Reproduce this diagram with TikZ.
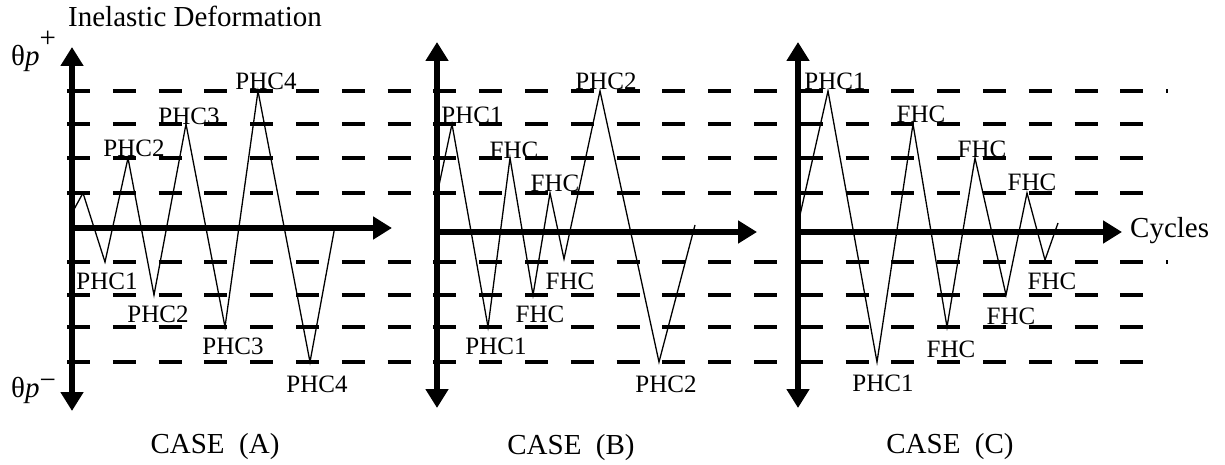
\documentclass[tikz,border=0pt]{standalone}
\usepackage{fontspec}
\setmainfont{Liberation Serif}
\usetikzlibrary{arrows.meta}
\begin{document}
\begin{tikzpicture}[x=1pt,y=-1pt,
  axisline/.style={line width=5.5pt},
  axtip/.style={-{Triangle[length=19pt,width=22pt]}},
  axtips/.style={{Triangle[length=19pt,width=22pt]}-{Triangle[length=19pt,width=22pt]}},
  levelline/.style={line width=3.3pt, dash pattern=on 23pt off 22.8pt},
  zig/.style={line width=1.3pt},
  lbl/.style={font=\fontsize{25}{28}\selectfont, inner sep=0pt},
  big/.style={font=\fontsize{29}{32}\selectfont, inner sep=0pt}]
\useasboundingbox (0,0) rectangle (1225,465);

% level lines
\foreach \yy/\xe in {91/1168,124/1143,158/1143,193/1143,262/1168,295/1143,327/1143,362/1143}{
  \draw[levelline] (67,\yy) -- (\xe,\yy);
}

% zigzags
\draw[zig] (72,213) -- (83,193) -- (105,262) -- (128,158) -- (154,295) -- (186,124) -- (225,327) -- (258,91) -- (310,362) -- (335,226);
\draw[zig] (438,190) -- (452,124) -- (488,327) -- (510,158) -- (533,295) -- (550,193) -- (564,259) -- (600,91) -- (659,362) -- (695,225);
\draw[zig] (800,215) -- (828,91) -- (877,362) -- (913,124) -- (947,327) -- (975,158) -- (1006,295) -- (1027,193) -- (1045,260) -- (1058,223);

% axes
\coordinate (oA) at (72,228);
\coordinate (tA) at (72,47);
\coordinate (bA) at (72,411);
\coordinate (eA) at (392,228);
\coordinate (oB) at (437,232);
\coordinate (tB) at (437,42);
\coordinate (bB) at (437,408);
\coordinate (eB) at (757,232);
\coordinate (oC) at (798,232);
\coordinate (tC) at (798,42);
\coordinate (bC) at (798,408);
\coordinate (eC) at (1122,232);
\draw[axisline,axtips] (bA) -- (tA);
\draw[axisline,axtip] (oA) -- (eA);
\draw[axisline,axtips] (bB) -- (tB);
\draw[axisline,axtip] (oB) -- (eB);
\draw[axisline,axtips] (bC) -- (tC);
\draw[axisline,axtip] (oC) -- (eC);

% titles
\node[big] (title) at (195,16) {Inelastic Deformation};
\node[big, anchor=west] (cyc) at (1130,231) {Cycles};
\node[big, anchor=base west] (tplus) at (11,66) {θ\textit{p}\raisebox{18pt}{+}};
\node[big, anchor=base west] (tminus) at (11,397) {θ\textit{p}\raisebox{8pt}{−}};
\node[big] (caseA) at (215,447) {CASE\ \ (A)};
\node[big] (caseB) at (571,448) {CASE\ \ (B)};
\node[big] (caseC) at (950,447) {CASE\ \ (C)};

% case A labels
\node[lbl] (a1) at (266,81) {PHC4};
\node[lbl] (a2) at (189,116) {PHC3};
\node[lbl] (a3) at (134,148) {PHC2};
\node[lbl] (a4) at (107,281) {PHC1};
\node[lbl] (a5) at (158,314) {PHC2};
\node[lbl] (a6) at (233,346) {PHC3};
\node[lbl] (a7) at (317,384) {PHC4};

% case B labels
\node[lbl] (b1) at (472,115) {PHC1};
\node[lbl] (b2) at (514,150) {FHC};
\node[lbl] (b3) at (555,183) {FHC};
\node[lbl] (b4) at (606,81) {PHC2};
\node[lbl] (b5) at (570,281) {FHC};
\node[lbl] (b6) at (540,314) {FHC};
\node[lbl] (b7) at (496,346) {PHC1};
\node[lbl] (b8) at (666,384) {PHC2};

% case C labels
\node[lbl] (c1) at (835,81) {PHC1};
\node[lbl] (c2) at (921,114) {FHC};
\node[lbl] (c3) at (982,149) {FHC};
\node[lbl] (c4) at (1032,182) {FHC};
\node[lbl] (c5) at (1052,281) {FHC};
\node[lbl] (c6) at (1011,316) {FHC};
\node[lbl] (c7) at (951,349) {FHC};
\node[lbl] (c8) at (883,383) {PHC1};
\end{tikzpicture}
\end{document}
